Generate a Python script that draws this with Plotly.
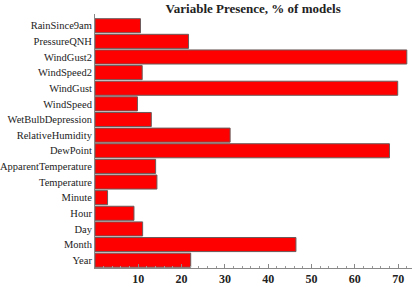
import plotly.graph_objects as go

categories = ["Year", "Month", "Day", "Hour", "Minute", "Temperature",
              "ApparentTemperature", "DewPoint", "RelativeHumidity",
              "WetBulbDepression", "WindSpeed", "WindGust", "WindSpeed2",
              "WindGust2", "PressureQNH", "RainSince9am"]
values = [22.1, 46.4, 11.0, 9.0, 2.9, 14.3, 14.0, 68.0, 31.2, 13.0,
          9.8, 69.9, 10.9, 72.0, 21.6, 10.5]
x_ticks = [10, 20, 30, 40, 50, 60, 70]

SERIF = "Liberation Serif, Times New Roman, serif"

fig = go.Figure(go.Bar(
    x=values, y=categories, orientation="h",
    marker=dict(color="#ff0000", line=dict(color="#6b5a5a", width=1)),
))

fig.update_layout(
    width=415, height=287,
    margin=dict(l=95, r=3, t=14, b=19, autoexpand=False),
    paper_bgcolor="white", plot_bgcolor="white",
    bargap=0.1,
    showlegend=False,
    title=dict(text="<b>Variable Presence, % of models</b>",
               x=0.61, xanchor="center", y=0.972, yanchor="middle",
               font=dict(family=SERIF, size=13, color="#222")),
    font=dict(family=SERIF, color="#222"),
)
fig.update_xaxes(
    range=[0, 73.2], tickvals=x_ticks, ticktext=[f"<b>{v}</b>" for v in x_ticks],
    showgrid=False, zeroline=False, showline=True, linecolor="#888", linewidth=1,
    ticks="inside", ticklen=4, tickcolor="#888",
    minor=dict(dtick=2, ticks="inside", ticklen=2, tickcolor="#999", showgrid=False),
    tickfont=dict(size=12, family=SERIF, color="#222"),
    ticklabelstandoff=0,
    automargin=False,
)
fig.update_yaxes(
    categoryorder="array", categoryarray=categories,
    range=[-0.5, 15.75],
    showgrid=False, zeroline=False, showline=True, linecolor="#888", linewidth=1,
    ticks="", tickfont=dict(size=10.5, family=SERIF, color="#222"),
    ticklabelstandoff=0,
    automargin=False,
)

fig.write_html("out.html", config={"displayModeBar": False},
               post_script="document.body.style.margin='0';")
